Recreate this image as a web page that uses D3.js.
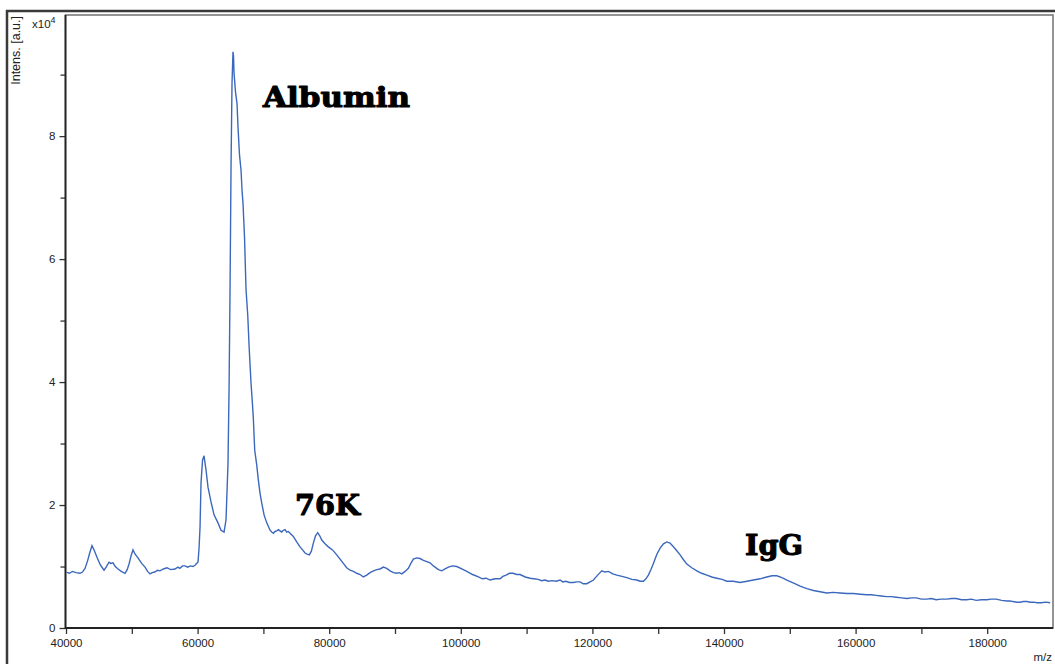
<!DOCTYPE html>
<html><head><meta charset="utf-8">
<script src="https://cdn.jsdelivr.net/npm/d3@7"></script>
<style>body{margin:0;background:#fff} svg{display:block}</style>
</head><body>
<svg id="c" width="1055" height="664"></svg>
<script>
// m/z values (Da)
const mz = [40000,40500,41000,41500,42130,42500,42890,43300,43600,43950,44300,44710,45200,45780,46100,46540,46800,47140,47500,47900,48400,48970,49300,49600,49900,50180,50500,50940,51500,52010,52400,52770,53100,53500,53900,54290,54800,55350,55900,56570,57000,57300,57700,58090,58500,58900,59300,59610,59850,60060,
60220,60370,60520,60750,60980,61280,61580,62040,62500,63100,63560,64020,64320,64620,64780,64930,65080,65230,65380,65460,65540,65760,65990,66140,66370,66600,66750,66900,67130,67360,67620,67820,67970,68120,68320,68470,68680,68990,69230,69490,69750,
70100,70510,71010,71260,71510,71770,72030,72280,72530,72780,73030,73290,73550,73790,74170,74550,75060,75570,75950,76330,76650,76980,77290,77590,77920,78260,78560,78870,79370,79870,80500,81150,81650,82150,82660,83170,83680,84190,84700,85190,85700,86210,86720,87230,87730,88230,88740,89250,89760,90270,90650,91030,91530,92030,92410,92790,93300,93810,94320,94830,95330,95710,96090,96600,97110,97610,98110,98750,99390,100150,100910,101790,
102670,103280,103860,104450,105200,105970,106400,106880,107400,107940,108500,109010,109800,110530,111100,111740,112300,112810,113300,113870,114500,115090,115500,116000,116500,117110,117600,118130,118600,119150,119650,120150,120800,121430,121900,122430,123100,123710,124500,125230,126000,126750,127250,127750,128130,128510,128900,129270,129800,130290,130800,131310,131800,132310,132800,133330,133840,134350,135100,135870,136600,137390,138150,138910,139700,140430,141400,142450,143500,144470,145500,146510,147300,148030,148800,149550,150600,151570,152600,153590,154600,155630,156600,157650,158700,159670,160700,161700,162400,163120,163900,164740,165400,166160,167000,167780,168500,169200,170000,170820,171500,172240,173000,173860,174600,175280,176100,176900,177600,178320,179100,179940,180600,181360,182200,182980,183500,183940,184500,185010,185500,186070,186500,187030,187600,188200,188900,189570];
// intensity (x10^4 a.u.)
const intens = [0.91,0.89,0.92,0.90,0.89,0.91,0.97,1.10,1.22,1.34,1.26,1.15,1.03,0.94,0.99,1.07,1.05,1.06,1.00,0.96,0.92,0.89,0.95,1.05,1.18,1.27,1.20,1.14,1.05,0.99,0.92,0.88,0.90,0.91,0.94,0.93,0.96,0.98,0.95,0.96,0.99,0.97,1.01,1.01,0.99,1.01,1.00,1.02,1.05,1.07,
1.30,1.64,2.36,2.73,2.80,2.57,2.29,2.05,1.84,1.71,1.59,1.56,1.76,2.68,3.87,5.50,7.48,8.86,9.37,9.30,9.02,8.72,8.53,8.15,7.69,7.45,7.12,6.91,6.36,5.50,5.09,4.60,4.28,3.98,3.67,3.41,2.89,2.65,2.41,2.19,2.03,
1.84,1.71,1.59,1.56,1.54,1.57,1.58,1.60,1.58,1.56,1.59,1.60,1.56,1.57,1.53,1.49,1.40,1.32,1.27,1.22,1.20,1.19,1.25,1.38,1.50,1.55,1.50,1.43,1.37,1.32,1.27,1.19,1.12,1.05,0.98,0.94,0.92,0.89,0.87,0.83,0.86,0.90,0.93,0.95,0.96,0.99,0.97,0.93,0.90,0.89,0.90,0.88,0.92,0.97,1.05,1.12,1.14,1.13,1.10,1.08,1.06,1.02,0.99,0.95,0.93,0.96,0.99,1.01,1.00,0.96,0.92,0.87,
0.83,0.80,0.81,0.78,0.80,0.80,0.84,0.86,0.89,0.89,0.87,0.87,0.83,0.81,0.80,0.79,0.77,0.78,0.76,0.77,0.76,0.78,0.75,0.76,0.74,0.74,0.75,0.75,0.72,0.72,0.75,0.78,0.86,0.93,0.91,0.92,0.88,0.86,0.84,0.82,0.79,0.78,0.76,0.76,0.80,0.86,0.95,1.05,1.20,1.30,1.37,1.40,1.38,1.32,1.26,1.19,1.11,1.04,0.98,0.93,0.89,0.86,0.83,0.81,0.79,0.76,0.76,0.74,0.76,0.78,0.80,0.83,0.85,0.85,0.82,0.78,0.73,0.68,0.64,0.61,0.59,0.57,0.58,0.57,0.56,0.56,0.55,0.54,0.54,0.53,0.52,0.51,0.51,0.50,0.49,0.48,0.49,0.49,0.47,0.47,0.48,0.46,0.47,0.47,0.48,0.48,0.46,0.46,0.47,0.45,0.46,0.46,0.47,0.47,0.45,0.44,0.44,0.43,0.42,0.42,0.43,0.43,0.42,0.42,0.41,0.41,0.42,0.41];

const xMajorTicks = [40000,60000,80000,100000,120000,140000,160000,180000];
const xMinorTicks = [50000,70000,90000,110000,130000,150000,170000];
const yMajorTicks = [0,2,4,6,8];
const yMinorTicks = [1,3,5,7,9];

const svg = d3.select("#c");
const L = 65.5, T = 15, R = 1053, B = 628;
const x = d3.scaleLinear().domain([40000,190000]).range([66,1053]);
const y = d3.scaleLinear().domain([0,9.97]).range([628,15]);

// outer frame
svg.append("line").attr("x1",7).attr("x2",7).attr("y1",10).attr("y2",664).attr("stroke","#3a3a3a").attr("stroke-width",2.5);
svg.append("line").attr("x1",6).attr("x2",1055).attr("y1",11).attr("y2",11).attr("stroke","#3a3a3a").attr("stroke-width",2.5);

// plot box
svg.append("rect").attr("x",L).attr("y",T).attr("width",R-L).attr("height",B-T)
  .attr("fill","none").attr("stroke","#7a7a7a").attr("stroke-width",1.6);

const font = "'Liberation Sans', Arial, sans-serif";

// x axis
svg.append("g").attr("transform",`translate(0,${B})`)
  .call(d3.axisBottom(x).tickValues(xMajorTicks).tickSize(6).tickPadding(5).tickFormat(d3.format("d")));
svg.append("g").attr("transform",`translate(0,${B})`)
  .call(d3.axisBottom(x).tickValues(xMinorTicks).tickSize(6).tickFormat(""));
// y axis
svg.append("g").attr("transform",`translate(${L},0)`)
  .call(d3.axisLeft(y).tickValues(yMajorTicks).tickSize(6).tickPadding(4).tickFormat(d3.format("d")));
svg.append("g").attr("transform",`translate(${L},0)`)
  .call(d3.axisLeft(y).tickValues(yMinorTicks).tickSize(5).tickFormat(""));

svg.selectAll(".domain").remove();
svg.selectAll(".tick line").attr("stroke","#333").attr("stroke-width",1.3);
svg.selectAll(".tick text").attr("font-family",font).attr("font-size",11.5).attr("fill","#222");

// dark left & bottom axis lines
svg.append("line").attr("x1",L).attr("x2",L).attr("y1",T).attr("y2",B+1).attr("stroke","#222").attr("stroke-width",1.8);
svg.append("line").attr("x1",L).attr("x2",R).attr("y1",B).attr("y2",B).attr("stroke","#222").attr("stroke-width",1.8);

// clip
svg.append("clipPath").attr("id","clip").append("rect").attr("x",L+1).attr("y",T+1).attr("width",R-L-2).attr("height",B-T-2);

const data = mz.map((m,i)=>[m,intens[i]]);
svg.append("path").datum(data)
  .attr("clip-path","url(#clip)")
  .attr("fill","none").attr("stroke","#3b68bd").attr("stroke-width",1.4)
  .attr("d", d3.line().x(d=>x(d[0])).y(d=>y(d[1])));

// axis titles
svg.append("text").attr("transform","translate(20,16) rotate(-90)").attr("text-anchor","end")
  .attr("font-family",font).attr("font-size",12.5).attr("fill","#222").text("Intens. [a.u.]");
const t = svg.append("text").attr("x",32).attr("y",28).attr("font-family",font).attr("font-size",11.5).attr("fill","#222");
t.append("tspan").text("x10");
t.append("tspan").attr("dy",-5).attr("font-size",9).text("4");
svg.append("text").attr("x",1052).attr("y",661).attr("text-anchor","end")
  .attr("font-family",font).attr("font-size",11.5).attr("fill","#222").text("m/z");

// annotations
const af = "'DejaVu Serif', 'Liberation Serif', serif";
const ann = [
  {t:"Albumin", x:263, y:107, w:147},
  {t:"76K", x:295, y:515, w:65},
  {t:"IgG", x:745, y:555, w:58}
];
svg.selectAll("text.ann").data(ann).enter().append("text").attr("class","ann")
  .attr("x",d=>d.x).attr("y",d=>d.y).attr("textLength",d=>d.w).attr("lengthAdjust","spacingAndGlyphs")
  .attr("font-family",af).attr("font-weight","bold").attr("font-size",28).attr("fill","#000")
  .attr("stroke","#000").attr("stroke-width",1.1).attr("stroke-linejoin","round")
  .text(d=>d.t);
</script>
</body></html>
